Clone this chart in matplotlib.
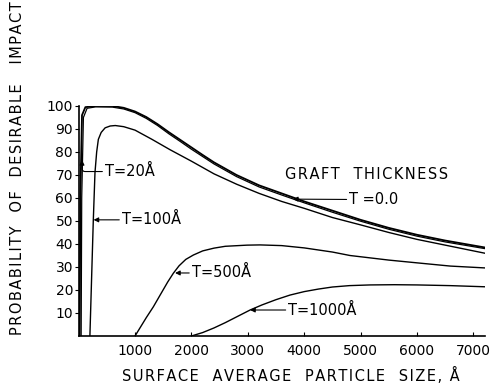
import matplotlib
matplotlib.use('Agg')
from matplotlib import pyplot as plt

plt.rcParams['font.family'] = ['DejaVu Sans']

# ---- curve data (particle size in A, probability in %) ----
t0_x = [20, 30, 60, 120, 300, 600, 800, 1000, 1200, 1400, 1600, 1800, 2000, 2200, 2400, 2800, 3200, 3600, 4000, 4500, 5000, 5500, 6000, 6500, 7200]
t0_y = [0, 60, 96, 99.5, 100, 100, 99.2, 97.6, 95.2, 92.1, 88.6, 85.3, 82, 78.7, 75.5, 70, 65.5, 62, 58.5, 54.5, 50.5, 47, 44, 41.5, 38.5]

t20_x = [45, 55, 85, 150, 300, 600, 800, 1000, 1200, 1400, 1600, 1800, 2000, 2200, 2400, 2800, 3200, 3600, 4000, 4500, 5000, 5500, 6000, 6500, 7200]
t20_y = [0, 60, 95, 99, 99.6, 99.5, 98.7, 97.1, 94.6, 91.5, 87.9, 84.6, 81.2, 78, 74.8, 69.3, 64.8, 61.3, 57.9, 53.8, 49.9, 46.4, 43.4, 40.9, 38]

t100_x = [200, 260, 290, 320, 350, 400, 470, 560, 650, 800, 1000, 1300, 1620, 2000, 2400, 2800, 3200, 3600, 4000, 4500, 5000, 5500, 6000, 6500, 7200]
t100_y = [0, 50, 71, 80, 85.5, 88.5, 90.5, 91.3, 91.5, 91, 89.5, 85.5, 81, 76, 70.5, 66, 62, 58.5, 55.5, 51.5, 48.3, 45, 42, 39.5, 36]

t500_x = [1000, 1100, 1200, 1325, 1450, 1580, 1680, 1780, 1900, 2034, 2200, 2400, 2600, 2985, 3216, 3600, 4000, 4500, 4810, 5500, 6000, 6590, 7200]
t500_y = [0, 4, 8, 12.7, 18, 23.5, 27.3, 30.5, 33.3, 35.2, 37, 38.2, 39, 39.5, 39.6, 39.3, 38.3, 36.5, 35, 33, 31.8, 30.4, 29.6]

t1000_x = [2000, 2200, 2400, 2600, 2800, 3040, 3250, 3500, 3748, 4000, 4250, 4500, 4800, 5167, 5600, 6000, 6590, 7200]
t1000_y = [0, 1.5, 3.5, 5.8, 8.3, 11.3, 13.5, 15.8, 17.8, 19.3, 20.4, 21.3, 21.9, 22.2, 22.3, 22.2, 21.9, 21.4]

x_ticks = [1000, 2000, 3000, 4000, 5000, 6000, 7000]
y_ticks = [10, 20, 30, 40, 50, 60, 70, 80, 90, 100]


def spaced(s):
    # widen the lettering a little, like the drafting letters of the original
    return '\u200a'.join(s)


fig = plt.figure(figsize=(4.96, 3.84), dpi=100)
ax = fig.add_axes([0.1585, 0.125, 0.8188, 0.599])

ax.plot(t0_x, t0_y, color='black', lw=1.3)
ax.plot(t20_x, t20_y, color='black', lw=0.9)
ax.plot(t100_x, t100_y, color='black', lw=1.0)
ax.plot(t500_x, t500_y, color='black', lw=1.0)
ax.plot(t1000_x, t1000_y, color='black', lw=1.0)

ax.set_xlim(0, 7200)
ax.set_ylim(0, 100)
ax.spines['top'].set_visible(False)
ax.spines['right'].set_visible(False)
ax.spines['left'].set_linewidth(1.2)
ax.spines['bottom'].set_linewidth(1.2)

ax.set_xticks(x_ticks)
ax.set_yticks(y_ticks)
ax.tick_params(axis='x', direction='in', length=3, labelsize=10, pad=6)
ax.tick_params(axis='y', direction='out', length=3, labelsize=10, pad=1)

ax.set_xlabel(spaced('SURFACE  AVERAGE  PARTICLE  SIZE, Å'), fontsize=10.5)
ax.xaxis.set_label_coords(0.523, -0.135)
fig.text(0.036, 0.5625, spaced('PROBABILITY  OF  DESIRABLE   IMPACT'), rotation=90,
         ha='center', va='center', fontsize=10.5)

arrow = dict(arrowstyle='-|>', color='black', lw=0.8, mutation_scale=7, shrinkA=0, shrinkB=0)

ax.text(5100, 70.4, spaced('GRAFT  THICKNESS'), fontsize=10.5, ha='center', va='center')
ax.annotate('T =0.0', xy=(3800, 59.5), xytext=(4800, 59.3), fontsize=10.5,
            va='center', arrowprops=arrow)
ax.annotate('T=20Å', xy=(60, 76.5), xytext=(470, 71.5), fontsize=10.5, va='center',
            arrowprops=dict(arrow, connectionstyle='angle,angleA=180,angleB=90,rad=3'))
ax.annotate('T=100Å', xy=(265, 50.5), xytext=(770, 50.5), fontsize=10.5, va='center',
            arrowprops=arrow)
ax.annotate('T=500Å', xy=(1710, 27.4), xytext=(2010, 27.4), fontsize=10.5, va='center',
            arrowprops=arrow)
ax.annotate('T=1000Å', xy=(3040, 11.3), xytext=(3720, 11.3), fontsize=10.5, va='center',
            arrowprops=arrow)

plt.savefig('out.png', dpi=100)
